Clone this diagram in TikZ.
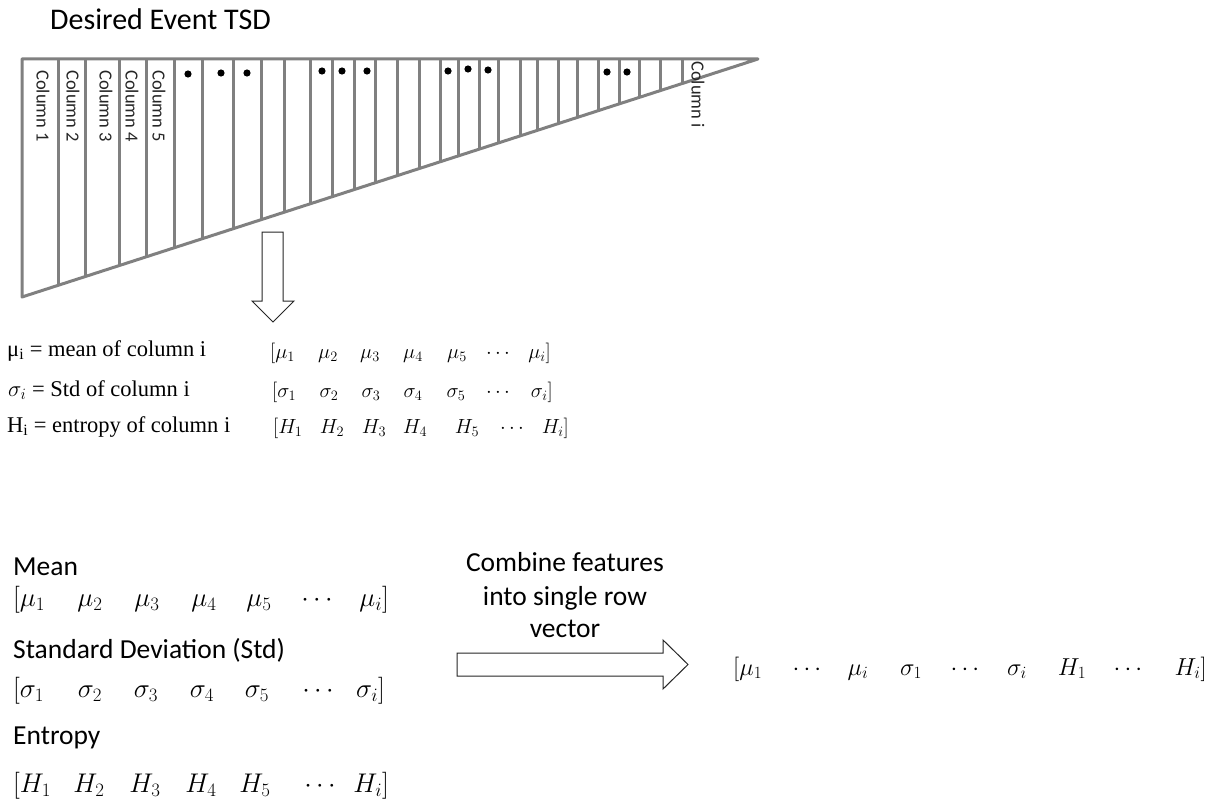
\RequirePackage{fix-cm}
\documentclass[tikz,border=0pt]{standalone}
\usepackage{fontspec}
\newfontfamily\calib{Carlito}
\newfontfamily\tnr{Liberation Serif}
\definecolor{tgray}{RGB}{128,128,128}
\tikzset{
  tri/.style={draw=tgray, line width=3bp, line join=round},
  bar/.style={draw=tgray, line width=3bp, line cap=butt},
  blockarrow/.style={draw=black!85, line width=1bp, fill=white, line join=miter},
  titletext/.style={font=\calib\fontsize{30bp}{35bp}\selectfont, inner sep=0pt},
  sans/.style={font=\calib\fontsize{27.5bp}{33bp}\selectfont, inner sep=0pt},
  collab/.style={font=\calib\fontsize{18.5bp}{22bp}\selectfont, inner sep=0pt, rotate=-90, anchor=west, text=black!85},
  midtext/.style={font=\tnr\fontsize{22.5bp}{26bp}\selectfont, inner sep=0pt},
  mmath/.style={font=\fontsize{20.5bp}{24bp}\selectfont, inner sep=0pt},
  bmath/.style={font=\fontsize{27bp}{32bp}\selectfont, inner sep=0pt},
  rmath/.style={font=\fontsize{24.5bp}{29bp}\selectfont, inner sep=0pt},
  dot/.style={fill=black}
}
\begin{document}
\begin{tikzpicture}[x=1bp,y=-1bp]
\useasboundingbox (0,0) rectangle (1218,801);
\fill[white] (0,0) rectangle (1218,801);
% title
\node[titletext, anchor=base west] (title) at (50,30) {Desired Event TSD};
% triangle
\draw[tri] (22,59) -- (758,59) -- (22,297) -- cycle;
\foreach \x in {58,85,119,146,174,202,233,261,284,310,332,354,375,397,419,440,458,479,498,520,537,558,577,598,619,639,660,682}{
  \pgfmathsetmacro\yb{297-(\x-22)*0.32337}
  \draw[bar] (\x,59) -- (\x,\yb);
}
% column labels
\foreach \x/\n in {43/1,73/2,106/3,132/4,159/5}{
  \node[collab] (col\n) at (\x,70) {Column \n};
}
\node[collab] (coli) at (698,61) {Column i};
% dots
\foreach \x/\y in {188/74,221/73,247/73,322/71,342/71,367/71,448/71,468/69,488/70,607/72,627/72}{
  \fill[dot] (\x,\y) circle[radius=3.6bp];
}
% down arrow
\draw[blockarrow] (262,232) -- (283,232) -- (283,301) -- (294,301) -- (273,322) -- (252,301) -- (262,301) -- cycle;
% middle definitions
\node[midtext, anchor=base west] (lmu) at (7,356) {μ\textsubscript{i} = mean of column i};
\node[midtext, anchor=base west] (lsig) at (8,396) {$\sigma_i$ = Std of column i};
\node[midtext, anchor=base west] (lH) at (7,432) {H\textsubscript{i} = entropy of column i};
% middle vectors
\node[mmath, anchor=base west] (mmu0) at (270,358) {$[\mu_1$};
\foreach \x/\t [count=\k] in {328/\mu_2,370/\mu_3,413/\mu_4,457/\mu_5,498/\cdots}{
  \node[mmath, anchor=base] (mmu\k) at (\x,358) {$\t$};
}
\node[mmath, anchor=base east] (mmui) at (551,358) {$\mu_i]$};
\node[mmath, anchor=base west] (msg0) at (272,397) {$[\sigma_1$};
\foreach \x/\t [count=\k] in {329/\sigma_2,371/\sigma_3,413/\sigma_4,456/\sigma_5,498/\cdots}{
  \node[mmath, anchor=base] (msg\k) at (\x,397) {$\t$};
}
\node[mmath, anchor=base east] (msgi) at (553,397) {$\sigma_i]$};
\node[mmath, anchor=base west] (mH0) at (273,433) {$[H_1$};
\foreach \x/\t [count=\k] in {332/H_2,374/H_3,415/H_4,467/H_5,512/\cdots}{
  \node[mmath, anchor=base] (mH\k) at (\x,433) {$\t$};
}
\node[mmath, anchor=base east] (mHi) at (569,433) {$H_i]$};
% bottom left
\node[sans, anchor=base west] (mean) at (13,575) {Mean};
\node[bmath, anchor=base west] (bmu0) at (13,606) {$[\mu_1$};
\foreach \x/\t [count=\k] in {90/\mu_2,147/\mu_3,204/\mu_4,259/\mu_5,317/\cdots}{
  \node[bmath, anchor=base] (bmu\k) at (\x,606) {$\t$};
}
\node[bmath, anchor=base east] (bmui) at (389,606) {$\mu_i]$};
\node[sans, anchor=base west] (std) at (13,658) {Standard Deviation (Std)};
\node[bmath, anchor=base west] (bsg0) at (13,697) {$[\sigma_1$};
\foreach \x/\t [count=\k] in {90/\sigma_2,146/\sigma_3,202/\sigma_4,257/\sigma_5,318/\cdots}{
  \node[bmath, anchor=base] (bsg\k) at (\x,697) {$\t$};
}
\node[bmath, anchor=base east] (bsgi) at (385,697) {$\sigma_i]$};
\node[sans, anchor=base west] (ent) at (13,744) {Entropy};
\node[bmath, anchor=base west] (bH0) at (13,792) {$[H_1$};
\foreach \x/\t [count=\k] in {89/H_2,145/H_3,201/H_4,255/H_5,320/\cdots}{
  \node[bmath, anchor=base] (bH\k) at (\x,792) {$\t$};
}
\node[bmath, anchor=base east] (bHi) at (389,792) {$H_i]$};
% combine
\node[sans, anchor=base] (c1) at (565,571) {Combine features};
\node[sans, anchor=base] (c2) at (565,605) {into single row};
\node[sans, anchor=base] (c3) at (565,637) {vector};
\draw[blockarrow] (457,653) -- (663,653) -- (663,640) -- (688,664.5) -- (663,689) -- (663,676) -- (457,676) -- cycle;
% result vector
\node[rmath, anchor=base west] (r0) at (733,675) {$[\mu_1$};
\foreach \x/\t [count=\k] in {807/\cdots,858/\mu_i,911/\sigma_1,965/\cdots,1017/\sigma_i,1072/H_1,1128/\cdots}{
  \node[rmath, anchor=base] (r\k) at (\x,675) {$\t$};
}
\node[rmath, anchor=base east] (rend) at (1207,675) {$H_i]$};
\end{tikzpicture}
\end{document}
